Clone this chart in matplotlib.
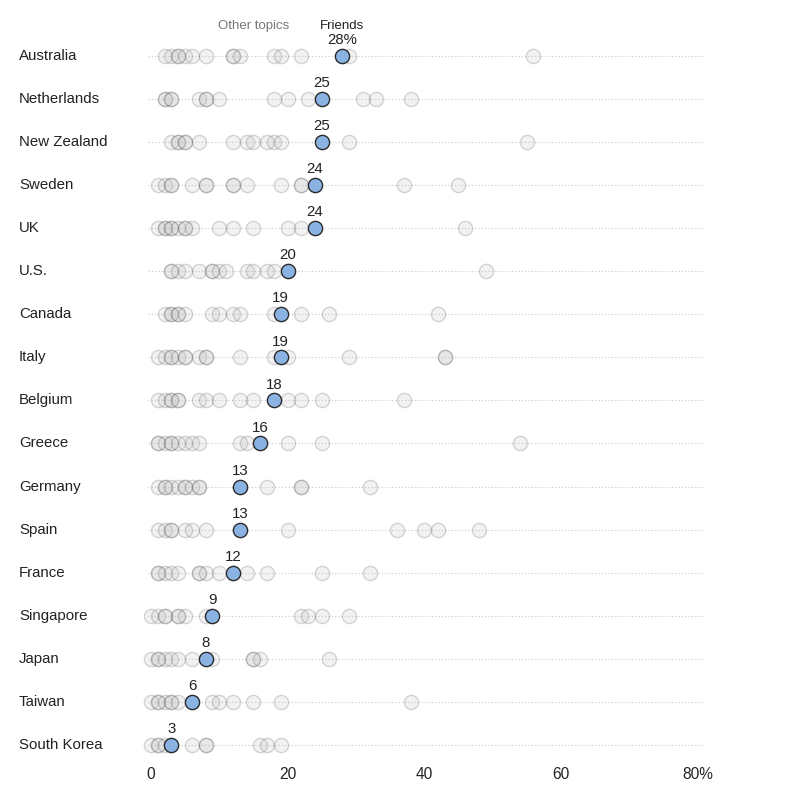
import matplotlib.pyplot as plt

# Data
countries = ["Australia", "Netherlands", "New Zealand", "Sweden", "UK", "U.S.",
             "Canada", "Italy", "Belgium", "Greece", "Germany", "Spain",
             "France", "Singapore", "Japan", "Taiwan", "South Korea"]

friends = [28, 25, 25, 24, 24, 20, 19, 19, 18, 16, 13, 13, 12, 9, 8, 6, 3]

# other topics, one list per country (repeated values overlap and look darker)
other_topics = [
    [2, 3, 4, 4, 5, 6, 8, 12, 12, 13, 18, 19, 22, 29, 56],
    [2, 2, 3, 3, 7, 8, 8, 10, 18, 20, 23, 31, 33, 38],
    [3, 4, 4, 5, 5, 7, 12, 14, 15, 17, 18, 19, 29, 55],
    [1, 2, 3, 3, 6, 8, 8, 12, 12, 14, 19, 22, 22, 37, 45],
    [1, 2, 2, 3, 3, 4, 5, 5, 6, 10, 12, 15, 20, 22, 46],
    [3, 3, 4, 5, 7, 9, 9, 10, 11, 14, 15, 17, 18, 49],
    [2, 3, 3, 4, 4, 5, 9, 10, 12, 13, 18, 22, 26, 42],
    [1, 2, 3, 3, 4, 5, 5, 7, 8, 8, 13, 18, 20, 29, 43, 43],
    [1, 2, 3, 3, 4, 4, 7, 8, 10, 13, 15, 20, 22, 25, 37],
    [1, 1, 2, 3, 3, 4, 5, 6, 7, 13, 14, 20, 25, 54],
    [1, 2, 2, 3, 4, 5, 5, 6, 7, 7, 17, 22, 22, 32],
    [1, 2, 3, 3, 5, 6, 8, 20, 36, 40, 42, 48],
    [1, 1, 2, 3, 4, 7, 7, 8, 10, 14, 17, 25, 32],
    [0, 1, 2, 2, 4, 4, 5, 8, 22, 23, 25, 29],
    [0, 1, 1, 2, 3, 4, 6, 9, 15, 15, 16, 26],
    [0, 1, 1, 2, 3, 3, 4, 9, 10, 12, 15, 19, 38],
    [0, 1, 1, 2, 6, 8, 8, 16, 17, 19],
]

xticks = [0, 20, 40, 60, 80]
xtick_labels = ["0", "20", "40", "60", "80%"]

plt.rcParams['font.family'] = ['Liberation Sans', 'DejaVu Sans']

W, H = 789, 797
fig = plt.figure(figsize=(W / 100, H / 100), dpi=100)

# axes placed in pixel coords: x=0 at px 151, 6.83 px per unit
left_px, right_px = 140, 710
top_px, bottom_px = 10, 790
ax = fig.add_axes([left_px / W, 1 - bottom_px / H,
                   (right_px - left_px) / W, (bottom_px - top_px) / H])
ppu = 6.83
ax.set_xlim((left_px - 151) / ppu, (right_px - 151) / ppu)
row0, step = 55.5, 43.1
ax.set_ylim((bottom_px - row0) / step, (top_px - row0) / step)
ax.axis('off')

for i, (name, f, others) in enumerate(zip(countries, friends, other_topics)):
    ax.hlines(i, -0.5, 81, colors='#c8c8c8', linestyles=(0, (1, 2)),
              linewidth=0.8, zorder=1)
    ax.scatter(others, [i] * len(others), s=105, facecolor=(0.75, 0.75, 0.75, 0.2),
               edgecolor=(0.3, 0.3, 0.3, 0.22), linewidth=1.0, zorder=2)
    ax.scatter([f], [i], s=105, facecolor='#8ab2e3', edgecolor='#2a2a2a',
               linewidth=1.0, zorder=3)
    lab = f"{f}%" if i == 0 else str(f)
    ax.text(f, i - 0.2, lab, ha='center', va='bottom', fontsize=10.8,
            color='#222222', zorder=4)
    fig.text(19 / W, 1 - (row0 + step * i) / H, name, ha='left', va='center',
             fontsize=10.8, color='#222222')

for t, lab in zip(xticks, xtick_labels):
    ax.text(t, 16.68, lab, ha='center', va='center', fontsize=11.2,
            color='#222222')

ax.text(15, -0.68, "Other topics", ha='center', va='center', fontsize=9.5,
        color='#777777')
ax.text(28, -0.68, "Friends", ha='center', va='center', fontsize=9.5,
        color='#222222')

fig.savefig("out.png", dpi=100)
